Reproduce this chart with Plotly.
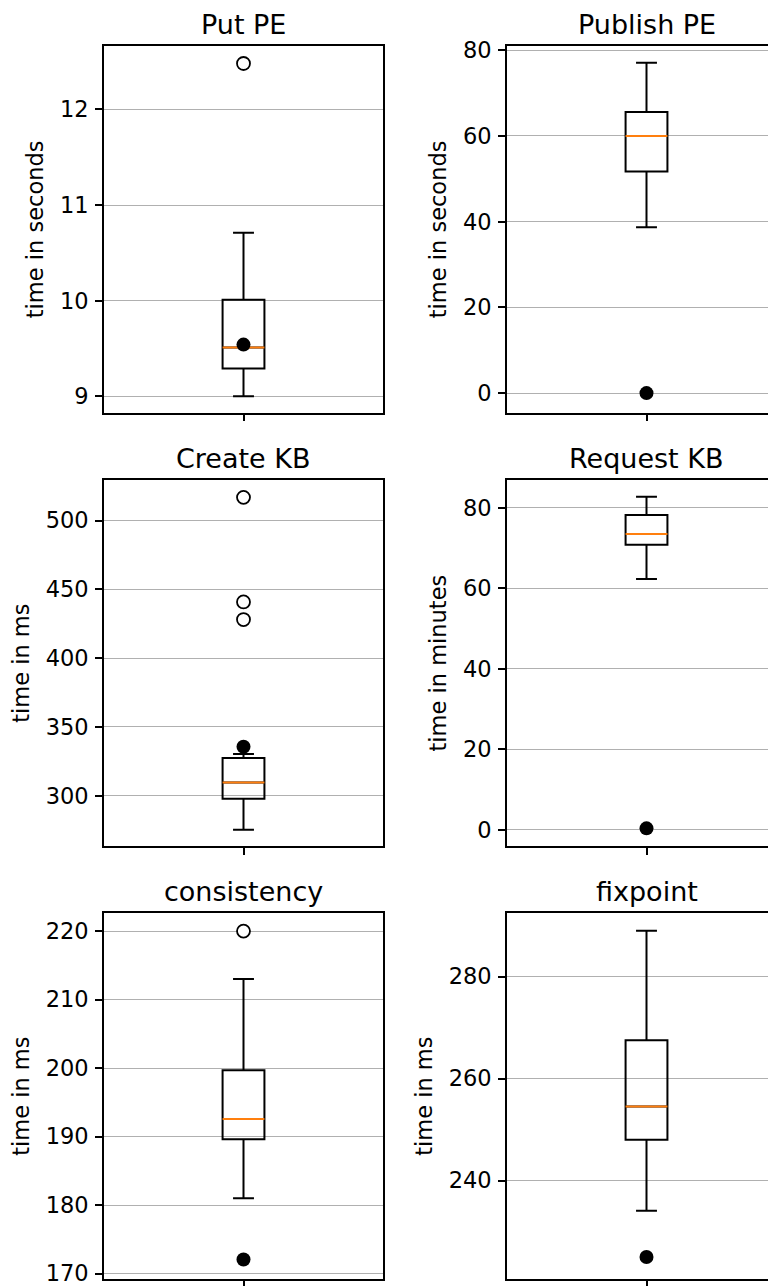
import plotly.graph_objects as go

# ---- data ----
titles = ["Put PE", "Publish PE", "Create KB", "Request KB", "consistency", "fixpoint"]
ylabels = ["time in seconds", "time in seconds", "time in ms", "time in minutes", "time in ms", "time in ms"]
q1 = [9.29, 51.7, 297.8, 70.8, 189.6, 248.0]
median = [9.51, 60.0, 309.7, 73.5, 192.55, 254.5]
q3 = [10.01, 65.6, 327.4, 78.2, 199.7, 267.5]
lowerfence = [9.0, 38.7, 275.3, 62.3, 181.0, 234.1]
upperfence = [10.71, 77.1, 330.3, 82.7, 213.0, 289.0]
outliers = [[12.48], [], [516.9, 440.9, 428.1], [], [220.0], []]
reference_pts = [[9.54], [0.0], [335.6], [0.4], [172.05], [225.0]]
tickvals = [
    [9, 10, 11, 12],
    [0, 20, 40, 60, 80],
    [300, 350, 400, 450, 500],
    [0, 20, 40, 60, 80],
    [170, 180, 190, 200, 210, 220],
    [240, 260, 280],
]
yranges = [
    [8.83, 12.66],
    [-4.53, 80.93],
    [263.5, 529.3],
    [-3.98, 86.8],
    [169.2, 222.6],
    [220.7, 292.4],
]

# ---- layout geometry (page pixels of the reference) ----
OFF_X, OFF_Y = 8, 8           # page offset of the plot div (body margin)
W, H = 776 - OFF_X, 1286 - OFF_Y
col_px = [(104, 383), (507, 776)]
col_center = [243.5, 646.5]
row_px = [(46.3, 412.5), (480.3, 846.0), (913.3, 1279.0)]
px_per_unit = 279.0
box_w = 0.15
FONT = "DejaVu Sans"

fig = go.Figure()
layout = dict(
    width=W, height=H, autosize=False,
    margin=dict(l=0, r=0, t=0, b=0, pad=0, autoexpand=False),
    paper_bgcolor="white", plot_bgcolor="white", showlegend=False,
    font=dict(family=FONT, color="black", size=22),
    annotations=[],
)

for i in range(6):
    r, c = divmod(i, 2)
    xa = "x" if i == 0 else f"x{i+1}"
    ya = "y" if i == 0 else f"y{i+1}"
    xkey = "xaxis" if i == 0 else f"xaxis{i+1}"
    ykey = "yaxis" if i == 0 else f"yaxis{i+1}"
    x0p, x1p = col_px[c]
    y0p, y1p = row_px[r]
    center = col_center[c]
    xr = [-(center - x0p) / px_per_unit, (x1p - center) / px_per_unit]

    fig.add_trace(go.Box(
        x=[0], q1=[q1[i]], median=[median[i]], q3=[q3[i]],
        lowerfence=[lowerfence[i]], upperfence=[upperfence[i]],
        width=box_w, whiskerwidth=0.5, boxpoints=False,
        fillcolor="rgba(0,0,0,0)", line=dict(color="black", width=2),
        xaxis=xa, yaxis=ya, hoverinfo="skip",
    ))
    fig.add_trace(go.Scatter(
        x=[-box_w / 2, box_w / 2], y=[median[i], median[i]], mode="lines",
        line=dict(color="#ff7f0e", width=2), xaxis=xa, yaxis=ya, hoverinfo="skip",
    ))
    if outliers[i]:
        fig.add_trace(go.Scatter(
            x=[0] * len(outliers[i]), y=outliers[i], mode="markers",
            marker=dict(symbol="circle", size=13, color="white",
                        line=dict(color="black", width=1.8)),
            xaxis=xa, yaxis=ya, hoverinfo="skip",
        ))
    fig.add_trace(go.Scatter(
        x=[0] * len(reference_pts[i]), y=reference_pts[i], mode="markers",
        marker=dict(symbol="circle", size=14, color="black"),
        xaxis=xa, yaxis=ya, hoverinfo="skip",
    ))

    layout[xkey] = dict(
        domain=[(x0p - OFF_X) / W, min(1.0, (x1p - OFF_X) / W)], range=xr, anchor=ya,
        showline=True, linecolor="black", linewidth=1.6, mirror=True,
        showgrid=False, zeroline=False, tickvals=[0], ticktext=[""],
        ticks="outside", ticklen=7, tickwidth=1.6, tickcolor="black",
        showticklabels=False, fixedrange=True, automargin=False,
    )
    layout[ykey] = dict(
        domain=[1 - (y1p - OFF_Y) / H, 1 - (y0p - OFF_Y) / H], range=yranges[i], anchor=xa,
        showline=True, linecolor="black", linewidth=1.6, mirror=(c == 0),
        showgrid=True, gridcolor="#b0b0b0", gridwidth=1.2, zeroline=False,
        tickvals=tickvals[i], ticks="outside", ticklen=7, tickwidth=1.6,
        tickcolor="black", tickfont=dict(family=FONT, size=22.5, color="black"),
        ticklabelstandoff=2, ticklabeloverflow="allow",
        title=dict(text=ylabels[i], standoff=10,
                   font=dict(family=FONT, size=22.5, color="black")),
        fixedrange=True, automargin=False,
    )
    layout["annotations"].append(dict(
        text=titles[i], xref="paper", yref="paper",
        x=(center - OFF_X) / W, y=1 - (y0p - OFF_Y) / H, xanchor="center", yanchor="bottom",
        yshift=5, borderpad=0, showarrow=False,
        font=dict(family=FONT, size=27, color="black"),
    ))

fig.update_layout(**layout)
fig.write_html("out.html")
